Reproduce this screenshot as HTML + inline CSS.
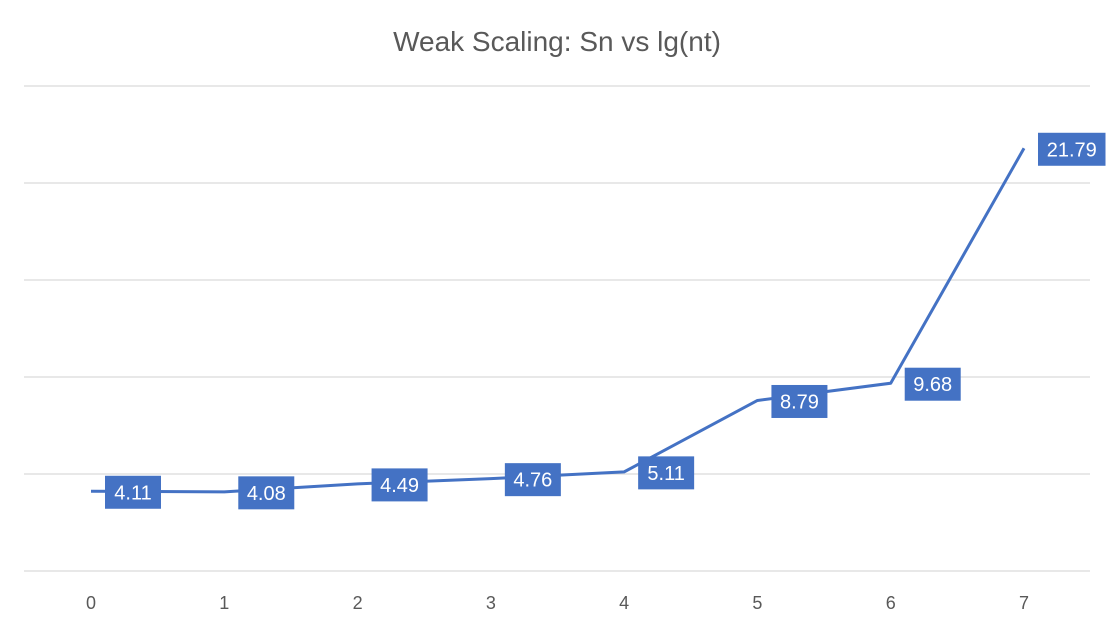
<!DOCTYPE html>
<html><head><meta charset="utf-8"><style>
body{margin:0;background:#fff;font-family:"Liberation Sans",sans-serif}
svg{display:block}
</style></head><body>
<svg width="1114" height="626" id="chart">
<text x="557" y="51" text-anchor="middle" font-size="28" fill="#595959">Weak Scaling: Sn vs lg(nt)</text>
<g id="grid"></g><g id="xt"></g><g id="series"></g><g id="labels"></g>
</svg>
<script>
const categories=[0,1,2,3,4,5,6,7];
const values=[4.11,4.08,4.49,4.76,5.11,8.79,9.68,21.79];
const yTicks=[0,5,10,15,20,25];
const ns="http://www.w3.org/2000/svg";
const X0=91,X1=1024,Y0=571,Y1=86,YMAX=25;
function xs(v){return X0+(v-categories[0])/(categories[categories.length-1]-categories[0])*(X1-X0);}
function ys(v){return Y0-v/YMAX*(Y0-Y1);}
function mk(t,a,p){const e=document.createElementNS(ns,t);for(const k in a)e.setAttribute(k,a[k]);p.appendChild(e);return e;}
const grid=document.getElementById('grid');
yTicks.forEach(t=>{const l=mk('line',{x1:24,x2:1090,y1:ys(t),y2:ys(t),stroke:'#d9d9d9','stroke-width':1.3},grid);

});
const xt=document.getElementById('xt');
categories.forEach(c=>{const t=mk('text',{x:xs(c),y:609,'text-anchor':'middle','font-size':18,fill:'#595959'},xt);t.textContent=c;

});
const s=document.getElementById('series');
const pl=mk('polyline',{points:values.map((v,i)=>xs(categories[i])+','+ys(v)).join(' '),fill:'none',stroke:'#4472c4','stroke-width':3,'stroke-linejoin':'round'},s);


const lg=document.getElementById('labels');
values.forEach((v,i)=>{const x=xs(categories[i])+14,y=ys(v)+1;const txt=v.toFixed(2);const w=txt.length*11.5+10;
const g=mk('g',{},lg);


mk('rect',{x:x,y:y-16.5,width:w,height:33,fill:'#4472c4'},g);
const t=mk('text',{x:x+w/2,y:y+7,'text-anchor':'middle','font-size':20,'font-weight':500,fill:'#fff'},g);t.textContent=txt;});
</script>
</body></html>
